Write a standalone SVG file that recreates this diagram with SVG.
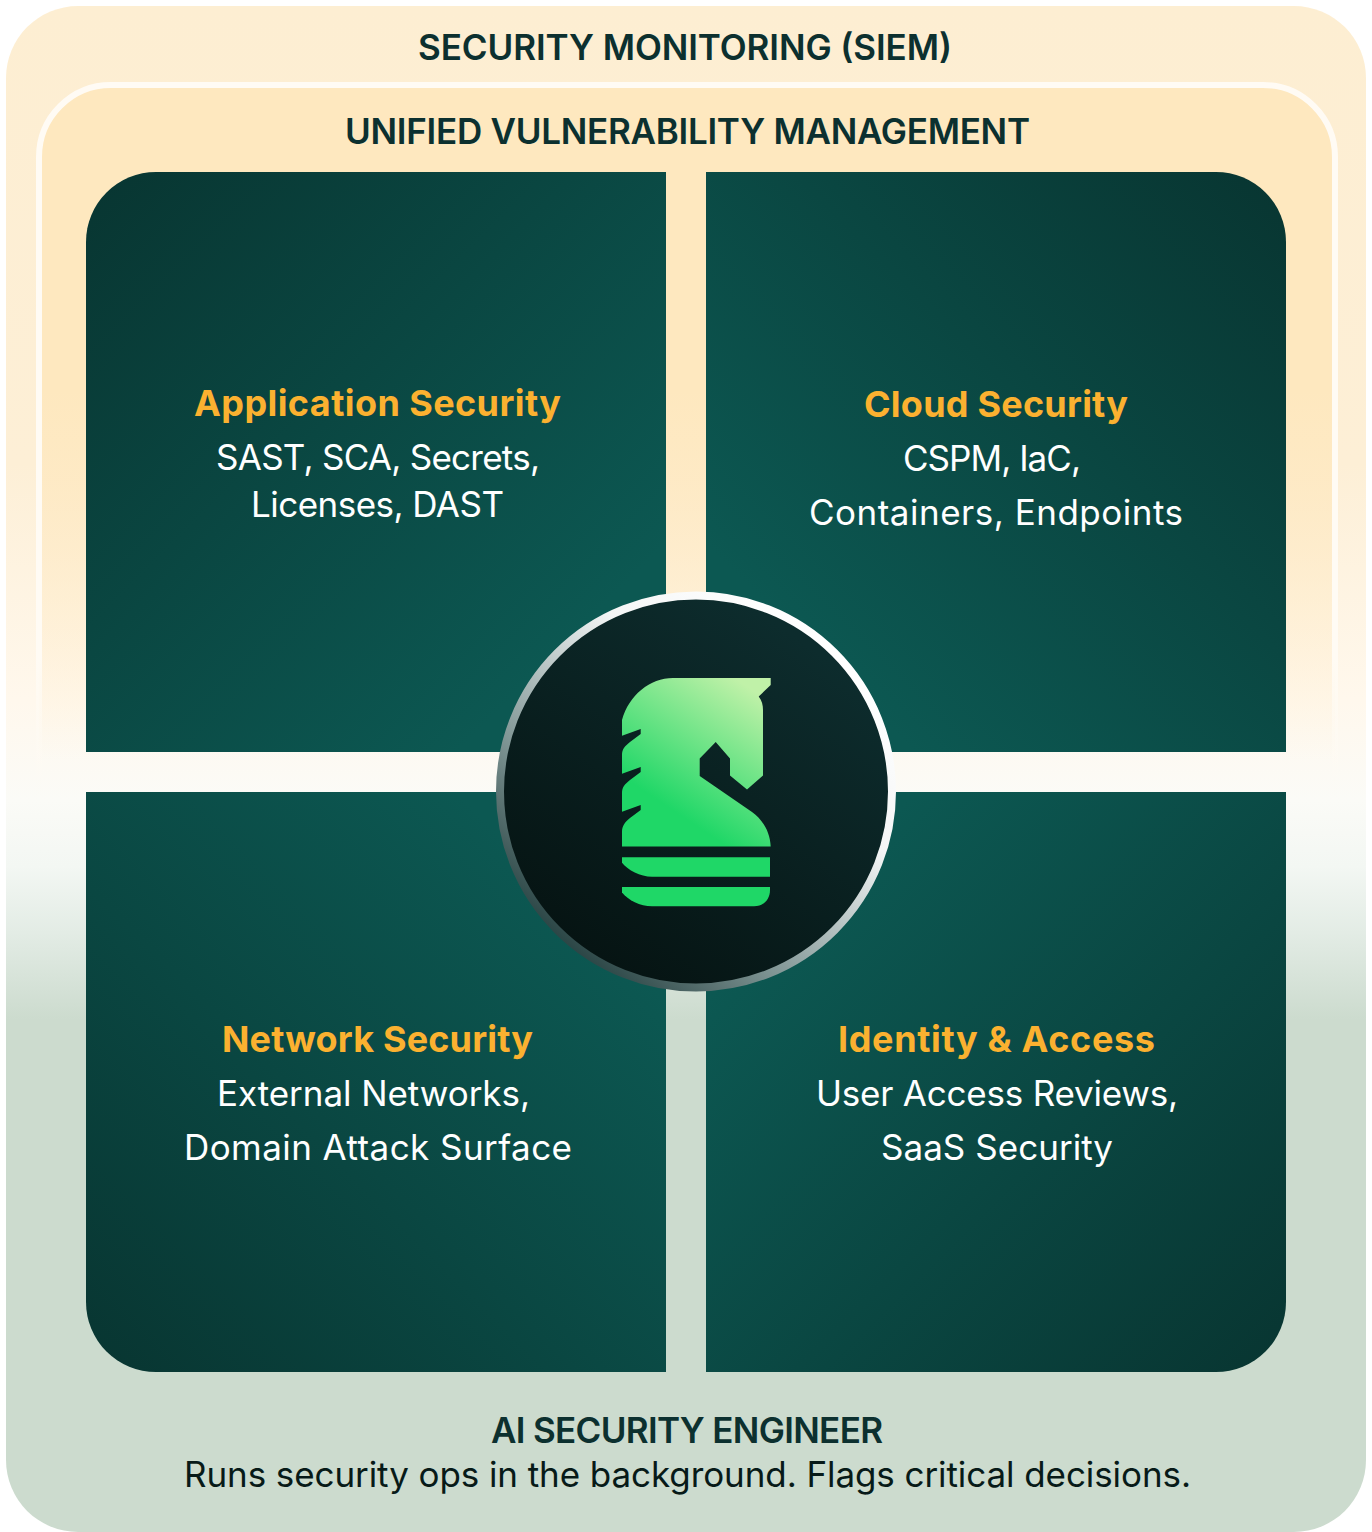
<svg xmlns="http://www.w3.org/2000/svg" width="1372" height="1532" viewBox="0 0 1372 1532">
<style>
text{font-family:Inter,"Liberation Sans",sans-serif;text-anchor:middle}
.h{font-weight:600;font-size:35px;fill:#0c302f}
.t{font-weight:700;font-size:36px;fill:#fbb130}
.b{font-weight:400;font-size:35px;fill:#fff}
.q{font-weight:400;font-size:35px;fill:#071a18}
</style>
<defs>
<linearGradient id="outer" x1="0" y1="0" x2="0" y2="1">
<stop offset="0" stop-color="#fdeed2"/><stop offset=".3" stop-color="#fdefd6"/><stop offset=".455" stop-color="#fff8ed"/><stop offset=".52" stop-color="#fbfbf7"/><stop offset=".564" stop-color="#f3f7f3"/><stop offset=".607" stop-color="#e3ece5"/><stop offset=".664" stop-color="#ccdbce"/><stop offset="1" stop-color="#ccdbce"/>
</linearGradient>
<linearGradient id="inner" gradientUnits="userSpaceOnUse" x1="0" y1="88" x2="0" y2="760">
<stop offset="0" stop-color="#fee8bf"/><stop offset=".45" stop-color="#fee8bf"/><stop offset="1" stop-color="#fee8bf" stop-opacity="0"/>
</linearGradient>
<linearGradient id="istroke" gradientUnits="userSpaceOnUse" x1="0" y1="82" x2="0" y2="800">
<stop offset="0" stop-color="#fffbf4"/><stop offset=".8" stop-color="#fffbf4"/><stop offset="1" stop-color="#fffbf4" stop-opacity="0"/>
</linearGradient>
<linearGradient id="g1" gradientUnits="userSpaceOnUse" x1="86" y1="172" x2="560" y2="650"><stop offset="0" stop-color="#083531"/><stop offset="1" stop-color="#0c5852"/></linearGradient>
<linearGradient id="g2" gradientUnits="userSpaceOnUse" x1="1286" y1="172" x2="812" y2="650"><stop offset="0" stop-color="#083531"/><stop offset="1" stop-color="#0c5852"/></linearGradient>
<linearGradient id="g3" gradientUnits="userSpaceOnUse" x1="86" y1="1372" x2="560" y2="894"><stop offset="0" stop-color="#083531"/><stop offset="1" stop-color="#0c5852"/></linearGradient>
<linearGradient id="g4" gradientUnits="userSpaceOnUse" x1="1286" y1="1372" x2="812" y2="894"><stop offset="0" stop-color="#083531"/><stop offset="1" stop-color="#0c5852"/></linearGradient>
<linearGradient id="ring" gradientUnits="userSpaceOnUse" x1="840" y1="650" x2="570" y2="960"><stop offset="0" stop-color="#fff"/><stop offset=".3" stop-color="#f4f6f6"/><stop offset=".7" stop-color="#7f9594"/><stop offset="1" stop-color="#243f3f"/></linearGradient>
<linearGradient id="disc" gradientUnits="userSpaceOnUse" x1="800" y1="640" x2="590" y2="950"><stop offset="0" stop-color="#0d2c2d"/><stop offset="1" stop-color="#061413"/></linearGradient>
<linearGradient id="horse" gradientUnits="userSpaceOnUse" x1="745" y1="685" x2="665" y2="805"><stop offset="0" stop-color="#c0f1a8"/><stop offset="1" stop-color="#1fd767"/></linearGradient>
</defs>
<g id="siem"><rect x="6" y="6" width="1360" height="1526" rx="72" fill="url(#outer)"/>
<text class="h" x="685" y="60" textLength="534">SECURITY MONITORING (SIEM)</text></g>
<g id="uvm"><path d="M39 800V157a72 72 0 0 1 72-72H1263a72 72 0 0 1 72 72V800" fill="url(#inner)" stroke="url(#istroke)" stroke-width="6"/>
<text class="h" x="687.500" y="144" textLength="685">UNIFIED VULNERABILITY MANAGEMENT</text></g>
<g id="appsec"><path d="M156 172H666V752H86V242a70 70 0 0 1 70-70Z" fill="url(#g1)"/>
<text class="t" x="377.500" y="416" textLength="367">Application Security</text>
<text class="b" x="378" y="470" textLength="324">SAST, SCA, Secrets,</text>
<text class="b" x="377.500" y="517" textLength="253">Licenses, DAST</text></g>
<g id="cloud"><path d="M706 172H1216a70 70 0 0 1 70 70V752H706Z" fill="url(#g2)"/>
<text class="t" x="996" y="417" textLength="264">Cloud Security</text>
<text class="b" x="992" y="471" textLength="178">CSPM, IaC,</text>
<text class="b" x="996" y="525" textLength="374">Containers, Endpoints</text></g>
<g id="network"><path d="M86 792H666V1372H156a70 70 0 0 1-70-70Z" fill="url(#g3)"/>
<text class="t" x="377.500" y="1052" textLength="311">Network Security</text>
<text class="b" x="373.500" y="1106" textLength="313">External Networks,</text>
<text class="b" x="378" y="1160" textLength="388">Domain Attack Surface</text></g>
<g id="identity"><path d="M706 792H1286V1302a70 70 0 0 1-70 70H706Z" fill="url(#g4)"/>
<text class="t" x="996.500" y="1052" textLength="317">Identity &amp; Access</text>
<text class="b" x="997" y="1106" textLength="362">User Access Reviews,</text>
<text class="b" x="997" y="1160" textLength="232">SaaS Security</text></g>
<g id="hub"><circle cx="696" cy="791.500" r="196" fill="url(#disc)" stroke="url(#ring)" stroke-width="8"/>
<path fill="url(#horse)" d="M622 720C629 695 650 678 673 678H770.700V685L758.700 696.500C762 701 763 705 763 710V775.500L747 789.500L730 775.500V758.500L715.700 742L699.700 758.500V776L752 812C763 820 770 832 770.700 846.500H622V831.700C622 826 625 822 630 818L640.700 810V805L622 811.700V793C622 787 625 784 630 780L640.700 772V767L622 773.700V755C622 749 625 746 630 742L640.700 734V729L622 735.700Z"/>
<path fill="#1fd767" d="M622 857.300H770V876.700H652C640 876.700 628 870 622 862.700Z"/>
<path fill="#1fd767" d="M622 887H770V890C770 900 763 906.300 754 906.300H652C640 906.300 628 900 622 892.500Z"/></g>
<g id="ai"><text class="h" x="687" y="1443" textLength="392">AI SECURITY ENGINEER</text>
<text class="q" x="687.500" y="1486.500" textLength="1007">Runs security ops in the background. Flags critical decisions.</text></g>
<g id="connectors"/>
</svg>
